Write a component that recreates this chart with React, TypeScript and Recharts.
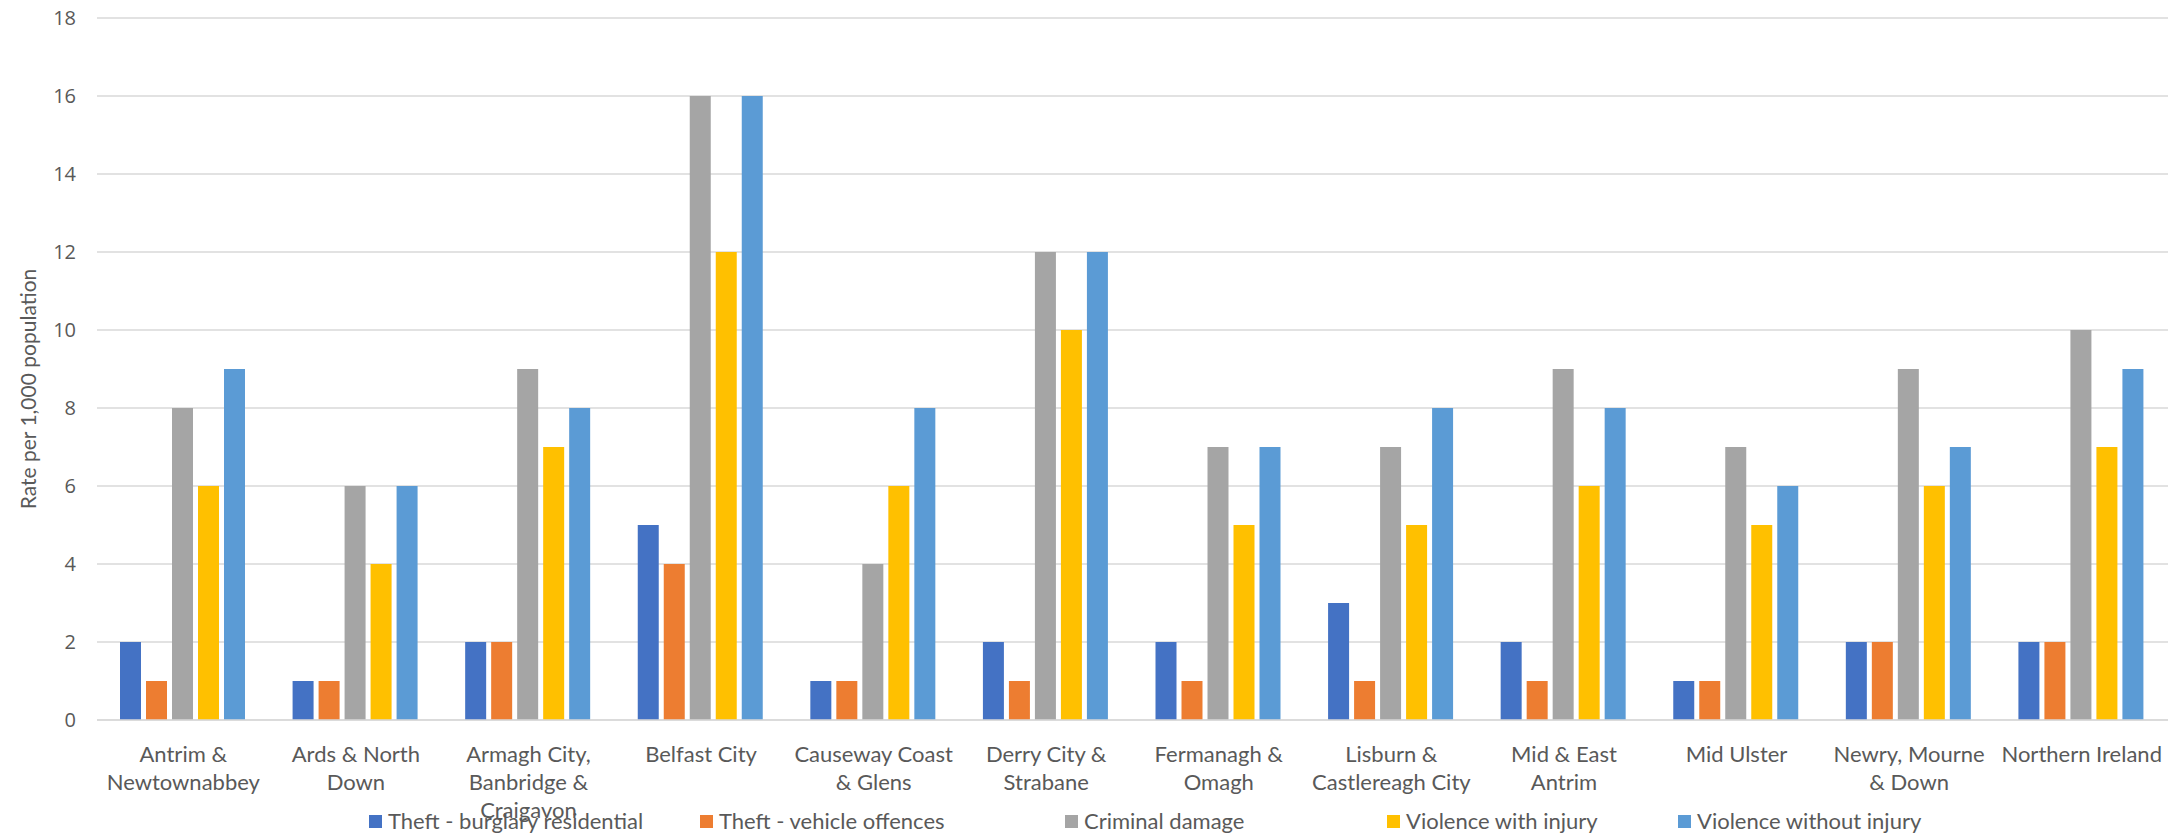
import React from "react";
import { BarChart, Bar, XAxis, YAxis, CartesianGrid, Legend, Label } from "recharts";

const categories = [
  "Antrim & Newtownabbey",
  "Ards & North Down",
  "Armagh City, Banbridge & Craigavon",
  "Belfast City",
  "Causeway Coast & Glens",
  "Derry City & Strabane",
  "Fermanagh & Omagh",
  "Lisburn & Castlereagh City",
  "Mid & East Antrim",
  "Mid Ulster",
  "Newry, Mourne & Down",
  "Northern Ireland",
];

const tickLines = [
  ["Antrim &", "Newtownabbey"],
  ["Ards & North", "Down"],
  ["Armagh City,", "Banbridge &", "Craigavon"],
  ["Belfast City"],
  ["Causeway Coast", "& Glens"],
  ["Derry City &", "Strabane"],
  ["Fermanagh &", "Omagh"],
  ["Lisburn &", "Castlereagh City"],
  ["Mid & East", "Antrim"],
  ["Mid Ulster"],
  ["Newry, Mourne", "& Down"],
  ["Northern Ireland"],
];

const burglary = [2, 1, 2, 5, 1, 2, 2, 3, 2, 1, 2, 2];
const vehicle = [1, 1, 2, 4, 1, 1, 1, 1, 1, 1, 2, 2];
const criminalDamage = [8, 6, 9, 16, 4, 12, 7, 7, 9, 7, 9, 10];
const violenceWith = [6, 4, 7, 12, 6, 10, 5, 5, 6, 5, 6, 7];
const violenceWithout = [9, 6, 8, 16, 8, 12, 7, 8, 8, 6, 7, 9];

const yTicks = [0, 2, 4, 6, 8, 10, 12, 14, 16, 18];

const series = [
  { key: "burglary", name: "Theft - burglary residential", color: "#4472C4", values: burglary },
  { key: "vehicle", name: "Theft - vehicle offences", color: "#ED7D31", values: vehicle },
  { key: "damage", name: "Criminal damage", color: "#A5A5A5", values: criminalDamage },
  { key: "vwith", name: "Violence with injury", color: "#FFC000", values: violenceWith },
  { key: "vwithout", name: "Violence without injury", color: "#5B9BD5", values: violenceWithout },
];

const data = categories.map((c, i) => {
  const row: Record<string, any> = { category: c };
  series.forEach((s) => (row[s.key] = s.values[i]));
  return row;
});

const TEXT = "#595959";
const FONT = "Lato, 'Noto Sans', sans-serif";
const TICK_FONT = "'Open Sans', 'Noto Sans', sans-serif";

const legendItemWidths = [331, 365, 322, 291, 300];

const XTick = (props: any) => {
  const { x, y, payload } = props;
  const idx = categories.indexOf(payload.value);
  const lines = idx >= 0 ? tickLines[idx] : [payload.value];
  return (
    <g>
      {lines.map((l: string, i: number) => (
        <text
          key={i}
          x={x}
          y={y + i * 28}
          textAnchor="middle"
          dominantBaseline="central"
          fill={TEXT}
          fontSize={22}
          fontFamily={FONT}
        >
          {l}
        </text>
      ))}
    </g>
  );
};

const LegendContent = () => (
  <div style={{ display: "flex", alignItems: "center", paddingLeft: 369, height: 30 }}>
    {series.map((s, i) => (
      <div
        key={s.key}
        style={{ display: "flex", alignItems: "center", width: legendItemWidths[i], flex: "none" }}
      >
        <span style={{ width: 13, height: 13, background: s.color, display: "inline-block", marginRight: 6 }} />
        <span style={{ color: TEXT, fontFamily: FONT, fontSize: 22, lineHeight: "30px", whiteSpace: "nowrap" }}>
          {s.name}
        </span>
      </div>
    ))}
  </div>
);

const YLabel = (props: any) => {
  const vb = props.viewBox;
  const cx = 27;
  const cy = vb.y + vb.height / 2 + 20;
  return (
    <text
      x={cx}
      y={cy}
      transform={`rotate(-90, ${cx}, ${cy})`}
      textAnchor="middle"
      dominantBaseline="central"
      fill={TEXT}
      fontSize={21}
      fontFamily={FONT}
    >
      Rate per 1,000 population
    </text>
  );
};

export default function App() {
  return (
    <div style={{ position: "absolute", left: 0, top: 0, width: 2175, height: 835, background: "#fff" }}>
      <BarChart
        width={2175}
        height={835}
        data={data}
        margin={{ top: 18, right: 7, left: 0, bottom: 0 }}
        barCategoryGap={23}
        barGap={5}
      >
        <CartesianGrid vertical={false} stroke="#D9D9D9" strokeWidth={1.5} />
        <XAxis
          dataKey="category"
          interval={0}
          height={115}
          tickLine={false}
          axisLine={{ stroke: "#D9D9D9", strokeWidth: 1.5 }}
          tick={<XTick />}
          tickSize={0}
          tickMargin={33}
        />
        <YAxis
          width={97}
          domain={[0, 18]}
          ticks={yTicks}
          interval={0}
          axisLine={false}
          tickLine={false}
          tickSize={0}
          tickMargin={21}
          tick={{ fill: TEXT, fontSize: 20, fontFamily: TICK_FONT }}
        >
          <Label content={<YLabel />} />
        </YAxis>
        <Legend
          layout="horizontal"
          verticalAlign="middle"
          align="center"
          wrapperStyle={{ top: 806, left: 0, width: 2175, height: 30 }}
          content={<LegendContent />}
        />
        {series.map((s) => (
          <Bar key={s.key} dataKey={s.key} name={s.name} fill={s.color} isAnimationActive={false} />
        ))}
      </BarChart>
    </div>
  );
}
